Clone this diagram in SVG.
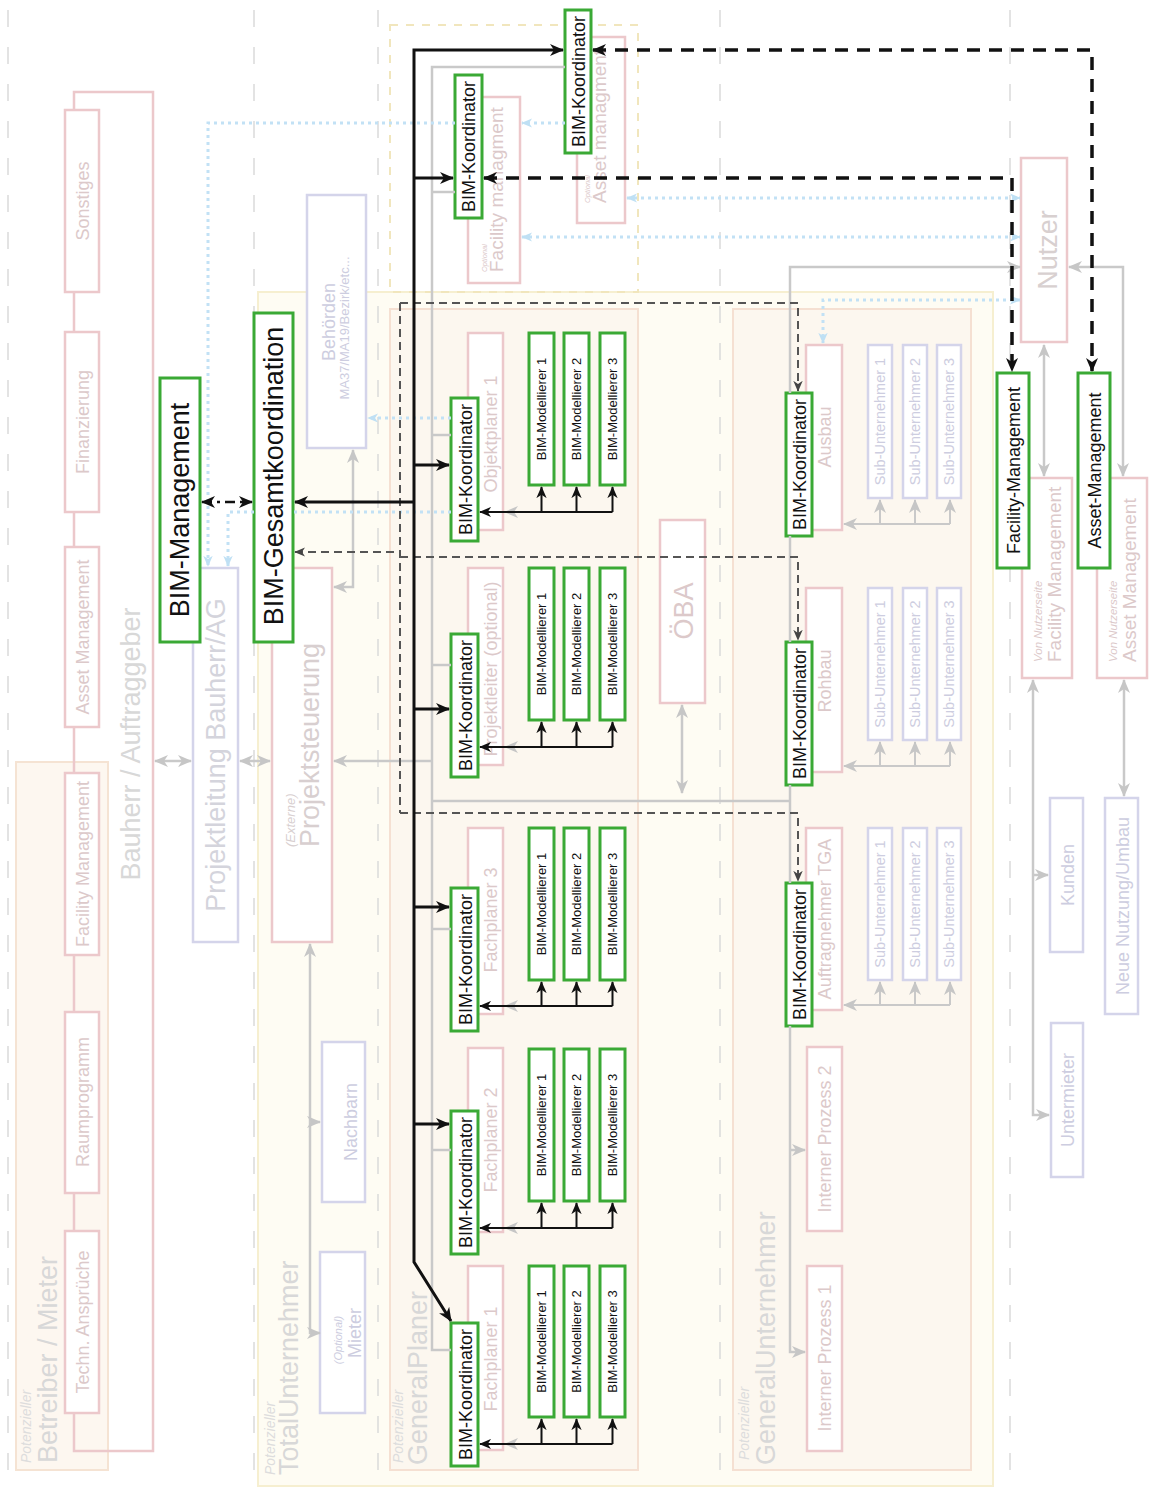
<svg xmlns="http://www.w3.org/2000/svg" width="1158" height="1490" viewBox="0 0 1158 1490">
<defs>
<style>
text{font-family:"Liberation Sans",Arial,Helvetica,sans-serif}
.pk{fill:#fff;stroke:#ecc8cb;stroke-width:2.5}
.bl{fill:#fff;stroke:#d4d4ea;stroke-width:2.5}
.gr{fill:#fff;stroke:#3aa935;stroke-width:3}
.tk{fill:#111;font-size:18px}
.tm{fill:#111;font-size:13px}
.tbig{fill:#111;font-size:27px}
.tp{fill:#dcc9ca;font-size:18px}
.tb{fill:#cdcde0;font-size:18px}
.tsu{fill:#cdcde0;font-size:14.5px}
.tl{fill:#d8d8d8;font-size:27px}
.ti{font-style:italic}
.sep{stroke:#dadada;stroke-width:1.5;stroke-dasharray:17 20;fill:none}
.cg{fill:none;stroke:#c9c9c9;stroke-width:2.5}
.cg2{fill:none;stroke:#c9c9c9;stroke-width:2}
.cb{fill:none;stroke:#c2e1f5;stroke-width:3;stroke-dasharray:3 4}
.ck{fill:none;stroke:#111;stroke-width:3}
.ck2{fill:none;stroke:#111;stroke-width:2}
.ckd{fill:none;stroke:#111;stroke-width:3.5;stroke-dasharray:13 9}
.ckdd{fill:none;stroke:#111;stroke-width:2.5;stroke-dasharray:10 5 3 5}
.cd{fill:none;stroke:#555;stroke-width:2;stroke-dasharray:8 5}
</style>
<marker id="mk" viewBox="0 0 14 12" refX="13" refY="6" markerWidth="14" markerHeight="12" markerUnits="userSpaceOnUse" orient="auto-start-reverse"><path d="M0,0 L14,6 L0,12 L4,6 Z" fill="#111"/></marker>
<marker id="mks" viewBox="0 0 14 12" refX="13" refY="6" markerWidth="12" markerHeight="11" markerUnits="userSpaceOnUse" orient="auto-start-reverse"><path d="M0,0 L14,6 L0,12 L4,6 Z" fill="#111"/></marker>
<marker id="mg" viewBox="0 0 14 12" refX="13" refY="6" markerWidth="14" markerHeight="13" markerUnits="userSpaceOnUse" orient="auto-start-reverse"><path d="M0,0 L14,6 L0,12 L4,6 Z" fill="#c6c6c6"/></marker>
<marker id="mb" viewBox="0 0 14 12" refX="13" refY="6" markerWidth="11" markerHeight="11" markerUnits="userSpaceOnUse" orient="auto-start-reverse"><path d="M0,0 L14,6 L0,12 L4,6 Z" fill="#bfe0f4"/></marker>
<marker id="md" viewBox="0 0 14 12" refX="13" refY="6" markerWidth="11" markerHeight="10" markerUnits="userSpaceOnUse" orient="auto-start-reverse"><path d="M0,0 L14,6 L0,12 L4,6 Z" fill="#444"/></marker>
</defs>
<rect x="0" y="0" width="1158" height="1490" fill="#fff"/>

<g id="regions">
<g id="region-betreiber">
<rect x="16" y="762" width="92" height="708" fill="#fdf7f0" stroke="#f5e3d3" stroke-width="2"/>
<text class="tl ti" style="font-size:14px;fill:#ddd" transform="translate(31,1463) rotate(-90)">Potenzieller</text>
<text class="tl" transform="translate(57,1463) rotate(-90)">Betreiber / Mieter</text>
</g>
<g id="region-totalunternehmer">
<rect x="258" y="292" width="735" height="1194" fill="#fefcf3" stroke="#f6efd0" stroke-width="2"/>
<text class="tl ti" style="font-size:14px;fill:#ddd" transform="translate(275,1475) rotate(-90)">Potenzieller</text>
<text class="tl" transform="translate(298,1475) rotate(-90)">TotalUnternehmer</text>
</g>
<rect id="region-optional" x="390" y="25" width="248" height="267" fill="none" stroke="#f1e6bd" stroke-width="2" stroke-dasharray="8 8"/>
<g id="region-generalplaner">
<rect x="390" y="309" width="248" height="1161" fill="#fcf7ef" stroke="#f5e0d2" stroke-width="2"/>
<text class="tl ti" style="font-size:14px;fill:#ddd" transform="translate(403,1463) rotate(-90)">Potenzieller</text>
<text class="tl" transform="translate(427,1465) rotate(-90)">GeneralPlaner</text>
</g>
<g id="region-generalunternehmer">
<rect x="733" y="309" width="238" height="1161" fill="#fcf7ef" stroke="#f5e0d2" stroke-width="2"/>
<text class="tl ti" style="font-size:14px;fill:#ddd" transform="translate(749,1460) rotate(-90)">Potenzieller</text>
<text class="tl" transform="translate(775,1465) rotate(-90)">GeneralUnternehmer</text>
</g>
</g>

<g id="separators">
<line class="sep" x1="8" y1="10" x2="8" y2="1490"/>
<line class="sep" x1="254" y1="10" x2="254" y2="1490"/>
<line class="sep" x1="378" y1="10" x2="378" y2="1490"/>
<line class="sep" x1="720" y1="10" x2="720" y2="1490"/>
<line class="sep" x1="1010" y1="10" x2="1010" y2="1490"/>
</g>

<g id="nodes">
<g id="bauherr">
<rect x="74" y="92" width="79" height="1359" fill="none" stroke="#ecc8cb" stroke-width="2.5"/>
<text class="tl" text-anchor="middle" transform="translate(140,744) rotate(-90)">Bauherr / Auftraggeber</text>
</g>
<g id="sonstiges"><rect class="pk" x="65" y="110" width="34" height="182"/><text class="tp" text-anchor="middle" transform="translate(89,201) rotate(-90)">Sonstiges</text></g>
<g id="finanzierung"><rect class="pk" x="65" y="332" width="34" height="180"/><text class="tp" text-anchor="middle" transform="translate(89,422) rotate(-90)">Finanzierung</text></g>
<g id="asset-management-b"><rect class="pk" x="65" y="547" width="34" height="180"/><text class="tp" text-anchor="middle" transform="translate(89,637) rotate(-90)">Asset Management</text></g>
<g id="facility-management-b"><rect class="pk" x="65" y="773" width="34" height="182"/><text class="tp" text-anchor="middle" transform="translate(89,864) rotate(-90)">Facility Management</text></g>
<g id="raumprogramm"><rect class="pk" x="65" y="1012" width="34" height="181"/><text class="tp" text-anchor="middle" transform="translate(89,1102) rotate(-90)">Raumprogramm</text></g>
<g id="techn-ansprueche"><rect class="pk" x="65" y="1231" width="34" height="182"/><text class="tp" text-anchor="middle" transform="translate(89,1322) rotate(-90)">Techn. Ansprüche</text></g>

<g id="projektleitung"><rect class="bl" x="193" y="568" width="45" height="374"/><text class="tl" style="fill:#d4d4dc" text-anchor="middle" transform="translate(225,755) rotate(-90)">Projektleitung Bauherr/AG</text></g>
<g id="projektsteuerung"><rect class="pk" x="272" y="568" width="60" height="374"/>
<text class="ti" style="fill:#d8cfd0;font-size:13px" transform="translate(295,847) rotate(-90)">(Externe)</text>
<text class="tl" style="fill:#d8cfd0" transform="translate(319,847) rotate(-90)">Projektsteuerung</text></g>
<g id="behoerden"><rect class="bl" x="307" y="195" width="59" height="253"/>
<text class="tb" text-anchor="middle" transform="translate(335,322) rotate(-90)">Behörden</text>
<text class="tb" style="font-size:13px" text-anchor="middle" transform="translate(349,328) rotate(-90)">MA37/MA19/Bezirk/etc...</text></g>
<g id="nachbarn"><rect class="bl" x="322" y="1042" width="43" height="160"/><text class="tb" text-anchor="middle" transform="translate(357,1122) rotate(-90)">Nachbarn</text></g>
<g id="mieter"><rect class="bl" x="320" y="1252" width="45" height="161"/>
<text class="tb ti" style="font-size:11px" text-anchor="middle" transform="translate(342,1340) rotate(-90)">(Optional)</text>
<text class="tb" text-anchor="middle" transform="translate(361,1333) rotate(-90)">Mieter</text></g>

<g id="fm-optional"><rect class="pk" x="468" y="97" width="52" height="186"/>
<text class="tp ti" style="font-size:7.5px" transform="translate(487,272) rotate(-90)">Optional</text>
<text class="tp" style="font-size:19px" transform="translate(503,272) rotate(-90)">Facility managment</text></g>
<g id="am-optional"><rect class="pk" x="577" y="37" width="48" height="186"/>
<text class="tp ti" style="font-size:7.5px" transform="translate(590,203) rotate(-90)">Optional</text>
<text class="tp" style="font-size:19px" transform="translate(606,203) rotate(-90)">Asset managment</text></g>

<g id="objektplaner"><rect class="pk" x="468" y="333" width="35" height="197"/><text class="tp" text-anchor="middle" transform="translate(497,434) rotate(-90)">Objektplaner 1</text></g>
<g id="projektleiter"><rect class="pk" x="468" y="568" width="35" height="197"/><text class="tp" text-anchor="middle" transform="translate(497,669) rotate(-90)">Projektleiter (optional)</text></g>
<g id="fachplaner3"><rect class="pk" x="468" y="828" width="35" height="186"/><text class="tp" text-anchor="middle" transform="translate(497,920) rotate(-90)">Fachplaner 3</text></g>
<g id="fachplaner2"><rect class="pk" x="468" y="1048" width="35" height="184"/><text class="tp" text-anchor="middle" transform="translate(497,1140) rotate(-90)">Fachplaner 2</text></g>
<g id="fachplaner1"><rect class="pk" x="468" y="1266" width="35" height="184"/><text class="tp" text-anchor="middle" transform="translate(497,1359) rotate(-90)">Fachplaner 1</text></g>

<g id="oeba"><rect class="pk" x="660" y="520" width="45" height="183"/><text class="tp" style="font-size:27px" text-anchor="middle" transform="translate(693,611) rotate(-90)">ÖBA</text></g>

<g id="ausbau"><rect class="pk" x="806" y="345" width="36" height="185"/><text class="tp" text-anchor="middle" transform="translate(831,437) rotate(-90)">Ausbau</text></g>
<g id="rohbau"><rect class="pk" x="806" y="588" width="36" height="184"/><text class="tp" text-anchor="middle" transform="translate(831,681) rotate(-90)">Rohbau</text></g>
<g id="tga"><rect class="pk" x="806" y="828" width="36" height="182"/><text class="tp" text-anchor="middle" transform="translate(831,919) rotate(-90)">Auftragnehmer TGA</text></g>
<g id="prozess2"><rect class="pk" x="807" y="1047" width="35" height="184"/><text class="tp" text-anchor="middle" transform="translate(831,1139) rotate(-90)">Interner Prozess 2</text></g>
<g id="prozess1"><rect class="pk" x="807" y="1266" width="35" height="185"/><text class="tp" text-anchor="middle" transform="translate(831,1358) rotate(-90)">Interner Prozess 1</text></g>

<g id="sub-ausbau">
<rect class="bl" x="868" y="345" width="24" height="153"/><text class="tsu" text-anchor="middle" transform="translate(885,421.5) rotate(-90)">Sub-Unternehmer 1</text>
<rect class="bl" x="903" y="345" width="24" height="153"/><text class="tsu" text-anchor="middle" transform="translate(920,421.5) rotate(-90)">Sub-Unternehmer 2</text>
<rect class="bl" x="937" y="345" width="24" height="153"/><text class="tsu" text-anchor="middle" transform="translate(954,421.5) rotate(-90)">Sub-Unternehmer 3</text>
</g>
<g id="sub-rohbau">
<rect class="bl" x="868" y="588" width="24" height="152"/><text class="tsu" text-anchor="middle" transform="translate(885,664) rotate(-90)">Sub-Unternehmer 1</text>
<rect class="bl" x="903" y="588" width="24" height="152"/><text class="tsu" text-anchor="middle" transform="translate(920,664) rotate(-90)">Sub-Unternehmer 2</text>
<rect class="bl" x="937" y="588" width="24" height="152"/><text class="tsu" text-anchor="middle" transform="translate(954,664) rotate(-90)">Sub-Unternehmer 3</text>
</g>
<g id="sub-tga">
<rect class="bl" x="868" y="828" width="24" height="152"/><text class="tsu" text-anchor="middle" transform="translate(885,904) rotate(-90)">Sub-Unternehmer 1</text>
<rect class="bl" x="903" y="828" width="24" height="152"/><text class="tsu" text-anchor="middle" transform="translate(920,904) rotate(-90)">Sub-Unternehmer 2</text>
<rect class="bl" x="937" y="828" width="24" height="152"/><text class="tsu" text-anchor="middle" transform="translate(954,904) rotate(-90)">Sub-Unternehmer 3</text>
</g>

<g id="nutzer"><rect class="pk" x="1021" y="158" width="46" height="184"/><text class="tl" style="fill:#d8d0d0" text-anchor="middle" transform="translate(1057,250) rotate(-90)">Nutzer</text></g>
<g id="fm-nutzerseite"><rect class="pk" x="1022" y="478" width="50" height="200"/>
<text class="tp ti" style="font-size:11.5px" transform="translate(1042,662) rotate(-90)">Von Nutzerseite</text>
<text class="tp" style="font-size:19px" transform="translate(1061,662) rotate(-90)">Facility Management</text></g>
<g id="am-nutzerseite"><rect class="pk" x="1097" y="478" width="50" height="200"/>
<text class="tp ti" style="font-size:11.5px" transform="translate(1117,662) rotate(-90)">Von Nutzerseite</text>
<text class="tp" style="font-size:19px" transform="translate(1136,662) rotate(-90)">Asset Management</text></g>
<g id="kunden"><rect class="bl" x="1050" y="798" width="33" height="154"/><text class="tb" text-anchor="middle" transform="translate(1074,875) rotate(-90)">Kunden</text></g>
<g id="untermieter"><rect class="bl" x="1051" y="1023" width="32" height="154"/><text class="tb" text-anchor="middle" transform="translate(1074,1100) rotate(-90)">Untermieter</text></g>
<g id="neue-nutzung"><rect class="bl" x="1105" y="798" width="33" height="216"/><text class="tb" text-anchor="middle" transform="translate(1129,906) rotate(-90)">Neue Nutzung/Umbau</text></g>

<g id="bim-management"><rect class="gr" x="160" y="378" width="40" height="264"/><text class="tbig" text-anchor="middle" transform="translate(189,510) rotate(-90)">BIM-Management</text></g>
<g id="bim-gesamtkoordination"><rect class="gr" x="254" y="313" width="39" height="329"/><text class="tbig" text-anchor="middle" transform="translate(283,476) rotate(-90)">BIM-Gesamtkoordination</text></g>
<g id="bimk-am"><rect class="gr" x="565" y="10" width="26" height="143"/><text class="tk" text-anchor="middle" transform="translate(585,81.5) rotate(-90)">BIM-Koordinator</text></g>
<g id="bimk-fm"><rect class="gr" x="455" y="75" width="27" height="143"/><text class="tk" text-anchor="middle" transform="translate(475,146.5) rotate(-90)">BIM-Koordinator</text></g>
<g id="bimk-objektplaner"><rect class="gr" x="451" y="398" width="27" height="143"/><text class="tk" text-anchor="middle" transform="translate(471.5,469.5) rotate(-90)">BIM-Koordinator</text></g>
<g id="bimk-projektleiter"><rect class="gr" x="451" y="634" width="27" height="143"/><text class="tk" text-anchor="middle" transform="translate(471.5,705.5) rotate(-90)">BIM-Koordinator</text></g>
<g id="bimk-fachplaner3"><rect class="gr" x="451" y="888" width="27" height="143"/><text class="tk" text-anchor="middle" transform="translate(471.5,959.5) rotate(-90)">BIM-Koordinator</text></g>
<g id="bimk-fachplaner2"><rect class="gr" x="451" y="1111" width="27" height="143"/><text class="tk" text-anchor="middle" transform="translate(471.5,1182.5) rotate(-90)">BIM-Koordinator</text></g>
<g id="bimk-fachplaner1"><rect class="gr" x="451" y="1323" width="27" height="143"/><text class="tk" text-anchor="middle" transform="translate(471.5,1394.5) rotate(-90)">BIM-Koordinator</text></g>

<g id="modellierer-r1">
<rect class="gr" x="529" y="333" width="25" height="152"/><text class="tm" text-anchor="middle" transform="translate(546,409) rotate(-90)">BIM-Modellierer 1</text>
<rect class="gr" x="564" y="333" width="25" height="152"/><text class="tm" text-anchor="middle" transform="translate(581,409) rotate(-90)">BIM-Modellierer 2</text>
<rect class="gr" x="600" y="333" width="25" height="152"/><text class="tm" text-anchor="middle" transform="translate(617,409) rotate(-90)">BIM-Modellierer 3</text>
</g>
<g id="modellierer-r2">
<rect class="gr" x="529" y="568" width="25" height="152"/><text class="tm" text-anchor="middle" transform="translate(546,644) rotate(-90)">BIM-Modellierer 1</text>
<rect class="gr" x="564" y="568" width="25" height="152"/><text class="tm" text-anchor="middle" transform="translate(581,644) rotate(-90)">BIM-Modellierer 2</text>
<rect class="gr" x="600" y="568" width="25" height="152"/><text class="tm" text-anchor="middle" transform="translate(617,644) rotate(-90)">BIM-Modellierer 3</text>
</g>
<g id="modellierer-r3">
<rect class="gr" x="529" y="828" width="25" height="152"/><text class="tm" text-anchor="middle" transform="translate(546,904) rotate(-90)">BIM-Modellierer 1</text>
<rect class="gr" x="564" y="828" width="25" height="152"/><text class="tm" text-anchor="middle" transform="translate(581,904) rotate(-90)">BIM-Modellierer 2</text>
<rect class="gr" x="600" y="828" width="25" height="152"/><text class="tm" text-anchor="middle" transform="translate(617,904) rotate(-90)">BIM-Modellierer 3</text>
</g>
<g id="modellierer-r4">
<rect class="gr" x="529" y="1049" width="25" height="152"/><text class="tm" text-anchor="middle" transform="translate(546,1125) rotate(-90)">BIM-Modellierer 1</text>
<rect class="gr" x="564" y="1049" width="25" height="152"/><text class="tm" text-anchor="middle" transform="translate(581,1125) rotate(-90)">BIM-Modellierer 2</text>
<rect class="gr" x="600" y="1049" width="25" height="152"/><text class="tm" text-anchor="middle" transform="translate(617,1125) rotate(-90)">BIM-Modellierer 3</text>
</g>
<g id="modellierer-r5">
<rect class="gr" x="529" y="1266" width="25" height="151"/><text class="tm" text-anchor="middle" transform="translate(546,1341.5) rotate(-90)">BIM-Modellierer 1</text>
<rect class="gr" x="564" y="1266" width="25" height="151"/><text class="tm" text-anchor="middle" transform="translate(581,1341.5) rotate(-90)">BIM-Modellierer 2</text>
<rect class="gr" x="600" y="1266" width="25" height="151"/><text class="tm" text-anchor="middle" transform="translate(617,1341.5) rotate(-90)">BIM-Modellierer 3</text>
</g>

<g id="bimk-ausbau"><rect class="gr" x="786" y="393" width="26" height="143"/><text class="tk" text-anchor="middle" transform="translate(806,464.5) rotate(-90)">BIM-Koordinator</text></g>
<g id="bimk-rohbau"><rect class="gr" x="786" y="642" width="26" height="143"/><text class="tk" text-anchor="middle" transform="translate(806,713.5) rotate(-90)">BIM-Koordinator</text></g>
<g id="bimk-tga"><rect class="gr" x="786" y="883" width="26" height="143"/><text class="tk" text-anchor="middle" transform="translate(806,954.5) rotate(-90)">BIM-Koordinator</text></g>

<g id="facility-management-green"><rect class="gr" x="997" y="373" width="32" height="195"/><text class="tk" text-anchor="middle" transform="translate(1019.5,470.5) rotate(-90)">Facility-Management</text></g>
<g id="asset-management-green"><rect class="gr" x="1078" y="373" width="32" height="195"/><text class="tk" text-anchor="middle" transform="translate(1100.5,470.5) rotate(-90)">Asset-Management</text></g>
</g>

<g id="connectors">
<g id="gray-connectors">
<path class="cg" d="M155,761 H191" marker-start="url(#mg)" marker-end="url(#mg)"/>
<path class="cg" d="M240,761 H270" marker-start="url(#mg)" marker-end="url(#mg)"/>
<path class="cg" d="M432,761 H334" marker-end="url(#mg)"/>
<path class="cg" d="M353,450 V587 H334" marker-start="url(#mg)" marker-end="url(#mg)"/>
<path class="cg" d="M310,944 V1333 H320" marker-start="url(#mg)" marker-end="url(#mg)"/>
<path class="cg" d="M310,1122 H320" marker-end="url(#mg)"/>
<path class="cg" d="M565,67 H432 V1350 H451"/>
<path class="cg" d="M432,192 H455 M432,435 H451 M432,665 H451 M432,929 H451 M432,1150 H451"/>
<path class="cg" d="M432,801 H790"/>
<path class="cg" d="M1020,267 H790 V393" marker-start="url(#mg)"/>
<path class="cg" d="M790,536 V642 M790,785 V883"/>
<path class="cg" d="M790,1026 V1352 H805" marker-end="url(#mg)"/>
<path class="cg" d="M790,1150 H805" marker-end="url(#mg)"/>
<path class="cg" d="M682,705 V793" marker-start="url(#mg)" marker-end="url(#mg)"/>
<path class="cg" d="M1069,267 H1123 V476" marker-start="url(#mg)" marker-end="url(#mg)"/>
<path class="cg" d="M1044,345 V476" marker-start="url(#mg)" marker-end="url(#mg)"/>
<path class="cg" d="M1033,680 V1115 H1049" marker-start="url(#mg)" marker-end="url(#mg)"/>
<path class="cg" d="M1033,875 H1048" marker-end="url(#mg)"/>
<path class="cg" d="M1124,680 V796" marker-start="url(#mg)" marker-end="url(#mg)"/>
<path class="cg2" d="M950,524 H844" marker-end="url(#mg)"/>
<path class="cg2" d="M880,524 V500" marker-end="url(#mg)"/>
<path class="cg2" d="M915,524 V500" marker-end="url(#mg)"/>
<path class="cg2" d="M950,524 V500" marker-end="url(#mg)"/>
<path class="cg2" d="M950,766 H844" marker-end="url(#mg)"/>
<path class="cg2" d="M880,766 V742" marker-end="url(#mg)"/>
<path class="cg2" d="M915,766 V742" marker-end="url(#mg)"/>
<path class="cg2" d="M950,766 V742" marker-end="url(#mg)"/>
<path class="cg2" d="M950,1005 H844" marker-end="url(#mg)"/>
<path class="cg2" d="M880,1005 V982" marker-end="url(#mg)"/>
<path class="cg2" d="M915,1005 V982" marker-end="url(#mg)"/>
<path class="cg2" d="M950,1005 V982" marker-end="url(#mg)"/>
<path class="cg2" d="M522,512 H505" marker-end="url(#mg)"/>
<path class="cg2" d="M522,747 H505" marker-end="url(#mg)"/>
<path class="cg2" d="M522,1006 H505" marker-end="url(#mg)"/>
<path class="cg2" d="M522,1228 H505" marker-end="url(#mg)"/>
<path class="cg2" d="M522,1444 H505" marker-end="url(#mg)"/>
</g>
<g id="blue-connectors">
<path class="cb" d="M565,123 H522" marker-end="url(#mb)"/>
<path class="cb" d="M455,123 H208 V566" marker-end="url(#mb)"/>
<path class="cb" d="M451,512 H293"/>
<path class="cb" d="M254,512 H228 V566" marker-end="url(#mb)"/>
<path class="cb" d="M451,418 H368" marker-end="url(#mb)"/>
<path class="cb" d="M627,198 H1020" marker-start="url(#mb)" marker-end="url(#mb)"/>
<path class="cb" d="M522,237 H1020" marker-start="url(#mb)" marker-end="url(#mb)"/>
<path class="cb" d="M1020,300 H823 V343" marker-start="url(#mb)" marker-end="url(#mb)"/>
</g>
<g id="dark-dashed-connectors">
<path class="cd" d="M295,552 H400" marker-start="url(#md)"/>
<path class="cd" d="M400,303 V813"/>
<path class="cd" d="M400,303 H798 V391" marker-end="url(#md)"/>
<path class="cd" d="M400,557 H798 V640" marker-end="url(#md)"/>
<path class="cd" d="M400,813 H798 V881" marker-end="url(#md)"/>
</g>
<g id="black-connectors">
<path class="ck" d="M563,50 H414 V1262 L451,1321" marker-start="url(#mk)" marker-end="url(#mk)"/>
<path class="ck" d="M414,178 H453" marker-end="url(#mk)"/>
<path class="ck" d="M414,465 H449" marker-end="url(#mk)"/>
<path class="ck" d="M414,709 H449" marker-end="url(#mk)"/>
<path class="ck" d="M414,907 H449" marker-end="url(#mk)"/>
<path class="ck" d="M414,1124 H449" marker-end="url(#mk)"/>
<path class="ck" d="M414,502 H295" marker-end="url(#mk)"/>
<path class="ckdd" d="M202,502 H252" marker-start="url(#mk)" marker-end="url(#mk)"/>
<path class="ckd" d="M593,50 H1092 V371" marker-start="url(#mk)" marker-end="url(#mk)"/>
<path class="ckd" d="M484,178 H1012 V371" marker-start="url(#mk)" marker-end="url(#mk)"/>
<path class="ck2" d="M612.5,512 H480" marker-end="url(#mks)"/>
<path class="ck2" d="M541.5,512 V487" marker-end="url(#mks)"/>
<path class="ck2" d="M576.5,512 V487" marker-end="url(#mks)"/>
<path class="ck2" d="M612.5,512 V487" marker-end="url(#mks)"/>
<path class="ck2" d="M612.5,747 H480" marker-end="url(#mks)"/>
<path class="ck2" d="M541.5,747 V722" marker-end="url(#mks)"/>
<path class="ck2" d="M576.5,747 V722" marker-end="url(#mks)"/>
<path class="ck2" d="M612.5,747 V722" marker-end="url(#mks)"/>
<path class="ck2" d="M612.5,1006 H480" marker-end="url(#mks)"/>
<path class="ck2" d="M541.5,1006 V982" marker-end="url(#mks)"/>
<path class="ck2" d="M576.5,1006 V982" marker-end="url(#mks)"/>
<path class="ck2" d="M612.5,1006 V982" marker-end="url(#mks)"/>
<path class="ck2" d="M612.5,1228 H480" marker-end="url(#mks)"/>
<path class="ck2" d="M541.5,1228 V1203" marker-end="url(#mks)"/>
<path class="ck2" d="M576.5,1228 V1203" marker-end="url(#mks)"/>
<path class="ck2" d="M612.5,1228 V1203" marker-end="url(#mks)"/>
<path class="ck2" d="M612.5,1444 H480" marker-end="url(#mks)"/>
<path class="ck2" d="M541.5,1444 V1419" marker-end="url(#mks)"/>
<path class="ck2" d="M576.5,1444 V1419" marker-end="url(#mks)"/>
<path class="ck2" d="M612.5,1444 V1419" marker-end="url(#mks)"/>
</g>
</g>
</svg>
